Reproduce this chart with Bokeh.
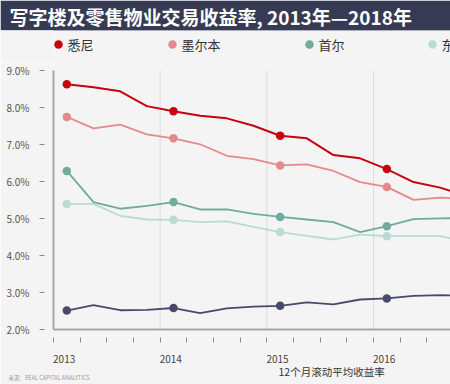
from bokeh.plotting import figure
from bokeh.layouts import column
from bokeh.models import (Range1d, Title, LinearAxis, FixedTicker, PrintfTickFormatter,
                          NumeralTickFormatter)
from bokeh.core.properties import value
from bokeh.embed import file_html
from bokeh.resources import INLINE

FONT = "Noto Sans CJK SC"

# ---------------- data ----------------
title_text = "写字楼及零售物业交易收益率, 2013年—2018年"
cities = ["悉尼", "墨尔本", "首尔", "东京", "香港"]
colors = ["#c8000f", "#e6898c", "#6fab9f", "#b9dbd1", "#474a6b"]

# quarter mid-points (rolling 12-month average yields, %)
quarters = [2013.125, 2013.375, 2013.625, 2013.875,
            2014.125, 2014.375, 2014.625, 2014.875,
            2015.125, 2015.375, 2015.625, 2015.875,
            2016.125, 2016.375, 2016.625, 2016.875]

sydney    = [8.62, 8.54, 8.43, 8.03, 7.89, 7.77, 7.70, 7.50, 7.23, 7.16, 6.71, 6.62, 6.33, 5.98, 5.83, 5.60]
melbourne = [7.74, 7.43, 7.53, 7.27, 7.16, 7.00, 6.69, 6.60, 6.43, 6.46, 6.28, 5.98, 5.85, 5.50, 5.56, 5.52]
seoul     = [6.28, 5.44, 5.26, 5.34, 5.44, 5.24, 5.24, 5.12, 5.04, 4.97, 4.90, 4.63, 4.79, 4.98, 5.00, 5.01]
tokyo     = [5.39, 5.39, 5.07, 4.97, 4.96, 4.90, 4.92, 4.77, 4.63, 4.53, 4.43, 4.56, 4.52, 4.52, 4.52, 4.38]
hongkong  = [2.51, 2.66, 2.52, 2.53, 2.58, 2.44, 2.57, 2.62, 2.64, 2.73, 2.68, 2.81, 2.84, 2.91, 2.93, 2.90]

series = [sydney, melbourne, seoul, tokyo, hongkong]

years = [2013, 2014, 2015, 2016]
quarter_ticks = [2013.0, 2013.25, 2013.5, 2013.75, 2014.0, 2014.25, 2014.5, 2014.75,
                 2015.0, 2015.25, 2015.5, 2015.75, 2016.0, 2016.25, 2016.5]
y_ticks = [2, 3, 4, 5, 6, 7, 8, 9]
x_axis_title = "12个月滚动平均收益率"
source_text = "来源：REAL CAPITAL ANALYTICS"

# ---------------- layout constants ----------------
W = 450
LEFT = 53          # plot frame left edge (frames are aligned in the column)
BG = "#f4f4f4"
DARK = "#363b53"

# ---------------- title bar ----------------
tf = figure(width=W, height=30, x_range=Range1d(0, W - LEFT), y_range=Range1d(0, 1),
            min_border_left=LEFT, min_border_right=0, min_border_top=0, min_border_bottom=0,
            toolbar_location=None, output_backend="svg",
            x_axis_location=None, y_axis_location=None,
            background_fill_color=DARK, border_fill_color=DARK, outline_line_color=None)
tf.grid.visible = False
tf.add_layout(Title(text=title_text, align="left", offset=9 - LEFT, standoff=2,
                    vertical_align="bottom",
                    text_font=FONT, text_font_size="19px", text_font_style="bold",
                    text_color="white"), "above")

# ---------------- legend strip ----------------
legend_x = [58, 172, 309, 432, 555]
lf = figure(width=W, height=32, x_range=Range1d(0, W - LEFT), y_range=Range1d(0, 32),
            min_border_left=LEFT, min_border_right=0, min_border_top=0, min_border_bottom=0,
            toolbar_location=None, output_backend="svg",
            x_axis_location=None, y_axis_location=None,
            background_fill_color=BG, border_fill_color=BG, outline_line_color=None)
lf.grid.visible = False
lf.scatter(x=[lx - LEFT for lx in legend_x], y=[18] * len(cities), size=8.5,
           color=colors, line_color=None)
lf.text(x=[lx - LEFT + 9 for lx in legend_x], y=[18] * len(cities), text=cities,
        text_font=value(FONT), text_font_size="13px", text_baseline="middle",
        text_color="#333333")

# ---------------- chart ----------------
p = figure(width=W, height=322, x_range=Range1d(2013.0, 2016.722), y_range=Range1d(2.0, 9.208),
           min_border_left=LEFT, min_border_right=0, min_border_top=0, min_border_bottom=55,
           toolbar_location=None, output_backend="svg",
           background_fill_color=BG, border_fill_color=BG, outline_line_color=None)
p.xgrid.visible = False
p.ygrid.visible = False

# y axis
ya = p.yaxis[0]
ya.ticker = FixedTicker(ticks=y_ticks)
ya.formatter = PrintfTickFormatter(format="%.1f%%")
ya.bounds = (y_ticks[0], y_ticks[-1])
ya.axis_line_color = "#a6a6a6"
ya.axis_line_width = 2
ya.major_tick_in = -9
ya.major_tick_out = 14
ya.major_tick_line_color = "#8a8a8a"
ya.major_tick_line_width = 1
ya.minor_tick_line_color = None
ya.major_label_standoff = 10
ya.major_label_text_font = FONT
ya.major_label_text_font_size = "10px"
ya.major_label_text_color = "#555555"

# x axis (quarter ticks, no labels)
xa = p.xaxis[0]
xa.ticker = FixedTicker(ticks=quarter_ticks)
xa.axis_line_color = "#a6a6a6"
xa.axis_line_width = 2
xa.major_tick_in = -8
xa.major_tick_out = 13
xa.major_tick_line_color = "#8a8a8a"
xa.major_tick_line_width = 1
xa.minor_tick_line_color = None
xa.major_label_text_color = None

# x axis year labels, placed just right of each year tick
label_shift = 0.1
xb = LinearAxis(ticker=FixedTicker(ticks=[y + label_shift for y in years]),
                formatter=NumeralTickFormatter(format="0"),
                axis_line_color=None, major_tick_line_color=None, minor_tick_line_color=None,
                major_tick_in=0, major_tick_out=0, major_label_standoff=12,
                major_label_text_font=FONT, major_label_text_font_size="10px",
                major_label_text_color="#444444")
p.add_layout(xb, "below")

# axis title and source line
p.add_layout(Title(text=x_axis_title, align="left", offset=278 - LEFT, standoff=-4,
                   vertical_align="top", text_font=FONT, text_font_size="10.5px",
                   text_font_style="normal", text_color="#333333"), "below")
p.add_layout(Title(text=source_text, align="left", offset=8 - LEFT, standoff=-10,
                   vertical_align="top", text_font=FONT, text_font_size="5.5px",
                   text_font_style="normal", text_color="#9a9a9a"), "below")

# vertical year guides
p.segment(x0=years[1:], y0=[y_ticks[0]] * 3, x1=years[1:], y1=[y_ticks[-1]] * 3,
          line_color="#dddddd", line_width=1)

# series lines + yearly markers
marker_idx = [0, 4, 8, 12]
for vals, col, w in reversed(list(zip(series, colors, [2, 1.8, 1.8, 1.8, 1.8]))):
    p.line(quarters, vals, line_color=col, line_width=w)
    p.scatter([quarters[i] for i in marker_idx], [vals[i] for i in marker_idx],
              size=8.5, color=col, line_color=None)

layout = column(tf, lf, p, spacing=0)
open("out.html", "w").write(file_html(layout, INLINE))
